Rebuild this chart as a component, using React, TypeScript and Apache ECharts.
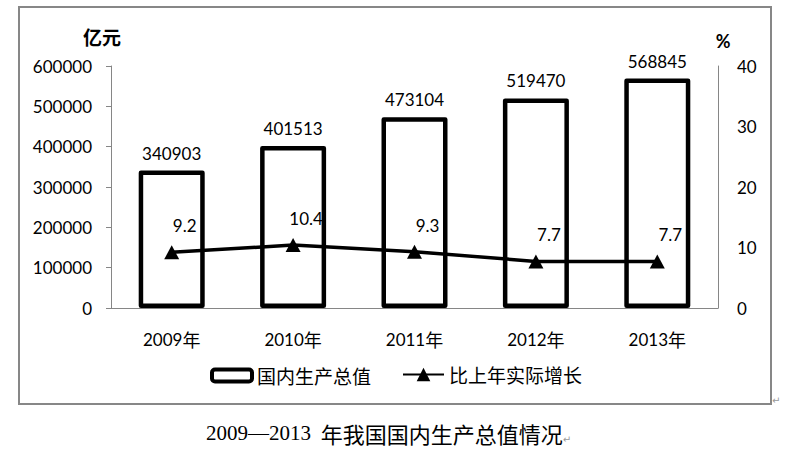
import React, { useEffect, useRef } from "react";
import * as echarts from "echarts";

const categories = ["2009年", "2010年", "2011年", "2012年", "2013年"];
const gdpValues = [340903, 401513, 473104, 519470, 568845];
const growthValues = [9.2, 10.4, 9.3, 7.7, 7.7];
const seriesNames = ["国内生产总值", "比上年实际增长"];
const leftAxisName = "亿元";
const rightAxisName = "%";
const captionYears = "2009—2013";
const captionText = "年我国国内生产总值情况";

const NUM_FONT = "Lato, 'Noto Sans CJK SC', sans-serif";
const CJK_FONT = "'Noto Sans CJK SC', sans-serif";

export default function App() {
  const ref = useRef<HTMLDivElement>(null);
  useEffect(() => {
    document.body.style.margin = "0";
    if (!ref.current) return;
    const chart = echarts.init(ref.current, null, { renderer: "svg" });
    const legendText = { fontFamily: CJK_FONT, fontSize: 19, color: "#000" };
    chart.setOption({
      animation: false,
      backgroundColor: "#fff",
      grid: { left: 111, right: 88, top: 66, bottom: 145, containLabel: false },
      legend: [
        {
          left: 205,
          top: 361,
          itemWidth: 40,
          itemHeight: 12,
          textStyle: legendText,
          data: [
            {
              name: seriesNames[0],
              icon: "roundRect",
              itemStyle: { color: "#fff", borderColor: "#000", borderWidth: 4 },
            },
          ],
        },
        {
          left: 397,
          top: 360,
          itemWidth: 41,
          itemHeight: 17,
          textStyle: legendText,
          data: [{ name: seriesNames[1] }],
        },
      ],
      xAxis: {
        type: "category",
        data: categories,
        axisLine: { lineStyle: { color: "#868686", width: 1 } },
        axisTick: { show: false },
        axisLabel: {
          margin: 22,
          formatter: (v: string) => `{n|${v.replace("年", "")}}{c|年}`,
          rich: {
            n: { fontFamily: NUM_FONT, fontSize: 17, color: "#000" },
            c: { fontFamily: CJK_FONT, fontSize: 18, color: "#000" },
          },
        },
      },
      yAxis: [
        {
          type: "value",
          min: 0,
          max: 600000,
          interval: 100000,
          name: leftAxisName,
          nameLocation: "end",
          nameGap: 20,
          nameTextStyle: {
            fontFamily: CJK_FONT,
            fontSize: 19,
            fontWeight: "bold",
            color: "#000",
            padding: [0, 18, 0, 0],
          },
          axisLine: { show: true, lineStyle: { color: "#868686", width: 1 } },
          axisTick: { show: true, length: 5, lineStyle: { color: "#868686" } },
          splitLine: { show: false },
          axisLabel: {
            margin: 19,
            fontFamily: NUM_FONT,
            fontSize: 17,
            color: "#000",
            formatter: (v: number) => String(v),
          },
        },
        {
          type: "value",
          min: 0,
          max: 40,
          interval: 10,
          name: rightAxisName,
          nameLocation: "end",
          nameGap: 16,
          nameTextStyle: {
            fontFamily: NUM_FONT,
            fontSize: 18,
            fontWeight: "bold",
            color: "#000",
            padding: [0, 0, 0, 10],
          },
          axisLine: { show: true, lineStyle: { color: "#868686", width: 1 } },
          axisTick: { show: false },
          splitLine: { show: false },
          axisLabel: { margin: 19, fontFamily: NUM_FONT, fontSize: 17, color: "#000" },
        },
      ],
      series: [
        {
          name: seriesNames[0],
          type: "bar",
          data: gdpValues,
          barWidth: 66,
          z: 1,
          itemStyle: { color: "#fff", borderColor: "#000", borderWidth: 4.5, borderJoin: "round" },
          label: {
            show: true,
            position: "top",
            distance: 9,
            fontFamily: NUM_FONT,
            fontSize: 17,
            color: "#000",
          },
        },
        {
          name: seriesNames[1],
          type: "line",
          yAxisIndex: 1,
          data: growthValues,
          z: 3,
          symbol: "triangle",
          symbolSize: [15, 14],
          itemStyle: { color: "#000" },
          lineStyle: { color: "#000", width: 3.5 },
          label: {
            show: true,
            position: "top",
            distance: 5,
            offset: [13, -6],
            fontFamily: NUM_FONT,
            fontSize: 17,
            color: "#000",
          },
        },
      ],
      graphic: [
        {
          type: "rect",
          shape: { x: 19, y: 7, width: 752, height: 397 },
          style: { fill: "none", stroke: "#878787", lineWidth: 2 },
          silent: true,
        },
        {
          type: "text",
          x: 206,
          y: 433,
          style: {
            text: `{d|${captionYears}}{s| }{c|${captionText}}{m|↵}`,
            verticalAlign: "middle",
            rich: {
              d: { fontFamily: "'Liberation Serif', serif", fontSize: 21, fill: "#000" },
              s: { fontFamily: "'DejaVu Sans Mono', monospace", fontSize: 16, fill: "#000" },
              c: { fontFamily: CJK_FONT, fontSize: 22, fill: "#000" },
              m: { fontFamily: "'DejaVu Sans'", fontSize: 10, fill: "#999", verticalAlign: "bottom" },
            },
          },
        },
        {
          type: "text",
          x: 772,
          y: 400,
          style: { text: "↵", fontFamily: "'DejaVu Sans'", fontSize: 10, fill: "#999", verticalAlign: "middle" },
        },
      ],
    });
    return () => chart.dispose();
  }, []);
  return (
    <div
      ref={ref}
      style={{ position: "absolute", left: 0, top: 0, width: 806, height: 453 }}
    />
  );
}
